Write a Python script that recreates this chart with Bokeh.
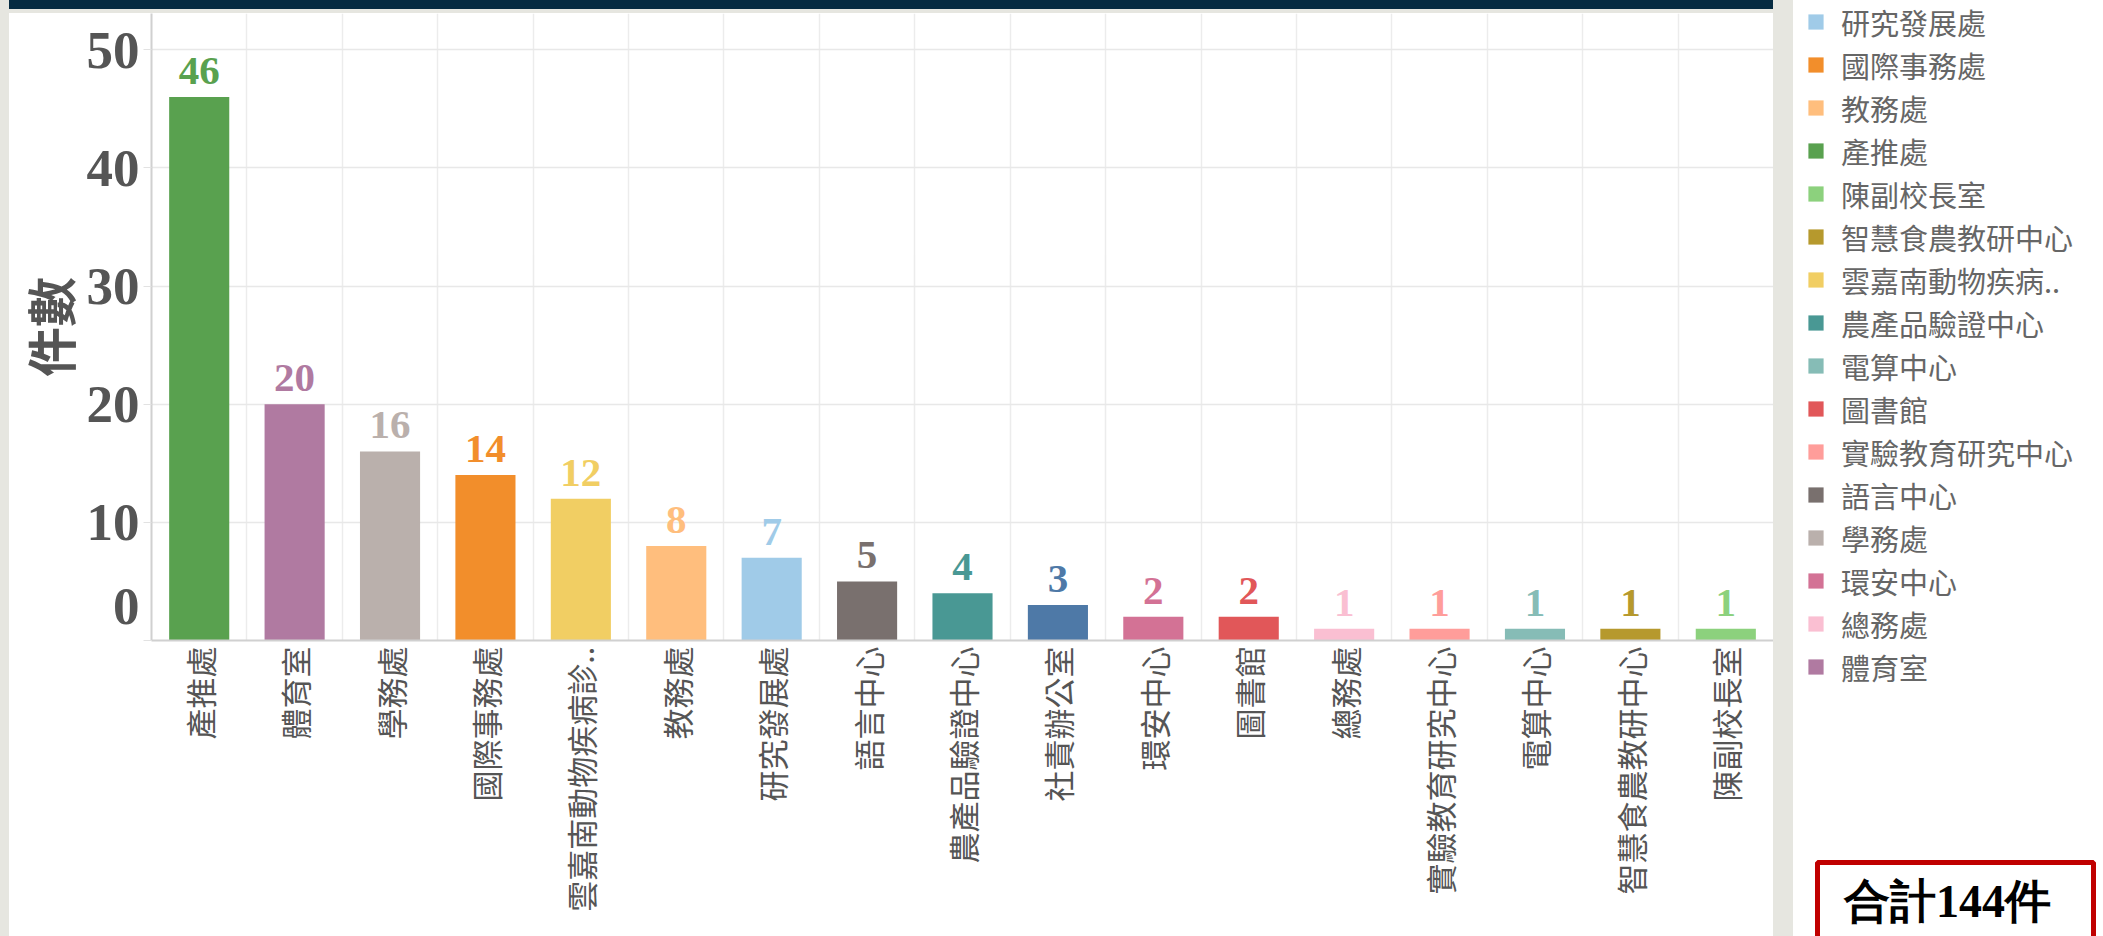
import math
from bokeh.plotting import figure
from bokeh.models import (ColumnDataSource, FactorRange, Range1d, FixedTicker, Label,
                          Legend, LegendItem, BoxAnnotation, Div)
from bokeh.layouts import row, column
from bokeh.core.properties import value, field
from bokeh.embed import file_html
from bokeh.resources import INLINE

# ---------------- data ----------------
categories = ["產推處", "體育室", "學務處", "國際事務處", "雲嘉南動物疾病診..", "教務處",
              "研究發展處", "語言中心", "農產品驗證中心", "社責辦公室", "環安中心", "圖書館",
              "總務處", "實驗教育研究中心", "電算中心", "智慧食農教研中心", "陳副校長室"]
counts = [46, 20, 16, 14, 12, 8, 7, 5, 4, 3, 2, 2, 1, 1, 1, 1, 1]
bar_colors = ["#59A14F", "#B07AA1", "#BAB0AC", "#F28E2B", "#F1CE63", "#FFBE7D",
              "#A0CBE8", "#79706E", "#499894", "#4E79A7", "#D37295", "#E15759",
              "#FABFD2", "#FF9D9A", "#86BCB6", "#B6992D", "#8CD17D"]

legend_names = ["研究發展處", "國際事務處", "教務處", "產推處", "陳副校長室", "智慧食農教研中心",
                "雲嘉南動物疾病..", "農產品驗證中心", "電算中心", "圖書館", "實驗教育研究中心",
                "語言中心", "學務處", "環安中心", "總務處", "體育室"]
legend_colors = ["#A0CBE8", "#F28E2B", "#FFBE7D", "#59A14F", "#8CD17D", "#B6992D",
                 "#F1CE63", "#499894", "#86BCB6", "#E15759", "#FF9D9A",
                 "#79706E", "#BAB0AC", "#D37295", "#FABFD2", "#B07AA1"]

y_ticks = [0, 10, 20, 30, 40, 50]
y_title = "件數"
total_text = "合計144件"

NAVY = "#062b41"
PANEL = "#e6e6e0"
TXT = "#555555"


def strip(w, h, color):
    return Div(text="", width=w, height=h, margin=0, styles={"background-color": color})


# ---------------- frame pieces ----------------
left_band = strip(9, 936, PANEL)
navy = strip(1764, 9, NAVY)
thin = strip(1764, 4, PANEL)
band = strip(20, 936, PANEL)

# ---------------- main bar chart ----------------
main = figure(x_range=FactorRange(factors=categories, range_padding=0),
              y_range=Range1d(0, 53.07),
              width=1764, height=923, output_backend="svg", toolbar_location=None,
              min_border_left=142, min_border_right=0, min_border_top=0, min_border_bottom=296)
main.outline_line_color = None
main.background_fill_color = "white"
main.border_fill_color = "white"

src = ColumnDataSource(dict(cat=categories, n=counts, color=bar_colors,
                            label=[str(c) for c in counts]))
main.vbar(x="cat", top="n", bottom=0, width=0.63, fill_color="color", line_color=None, source=src)
main.text(x="cat", y="n", text=field("label"), text_color=field("color"), source=src,
          text_font=value("Liberation Serif"), text_font_style="bold", text_font_size="41px",
          text_align="center", text_baseline="alphabetic", y_offset=-26)

yax = main.yaxis[0]
yax.ticker = FixedTicker(ticks=y_ticks)
yax.major_label_text_font = "Liberation Serif"
yax.major_label_text_font_style = "bold"
yax.major_label_text_font_size = "53px"
yax.major_label_text_color = TXT
yax.axis_line_color = "#d0d0d0"
yax.axis_line_width = 2
yax.major_tick_out = 8
yax.major_tick_in = 0
yax.major_tick_line_color = "#e2e2e2"
yax.minor_tick_line_color = None
yax.major_label_standoff = 4
yax.axis_label = y_title
yax.axis_label_text_font = "Noto Sans CJK TC"
yax.axis_label_text_font_style = "bold"
yax.axis_label_text_font_size = "50px"
yax.axis_label_text_color = TXT
yax.axis_label_standoff = -1
# the zero label sits a little above the baseline in the original
yax.major_label_overrides = {0: "0\n\u00a0"}

xax = main.xaxis[0]
xax.major_label_orientation = math.pi / 2
xax.major_label_text_font = "Noto Sans CJK TC"
xax.major_label_text_font_size = "31px"
xax.major_label_text_color = TXT
xax.major_label_standoff = 0
xax.major_tick_line_color = None
xax.minor_tick_line_color = None
xax.axis_line_color = "#d0d0d0"
xax.axis_line_width = 2

main.ygrid.ticker = FixedTicker(ticks=y_ticks)
main.ygrid.grid_line_color = "#e8e8e8"
main.ygrid.grid_line_width = 1.5
main.xgrid.ticker = FixedTicker(ticks=list(range(1, len(categories))))
main.xgrid.grid_line_color = "#ececec"
main.xgrid.grid_line_width = 1.5

# ---------------- legend panel ----------------
LW, LH = 310, 936
leg = figure(width=LW, height=LH, x_range=Range1d(0, LW), y_range=Range1d(0, LH),
             output_backend="svg", toolbar_location=None,
             x_axis_location=None, y_axis_location=None, min_border=0)
leg.outline_line_color = None
leg.grid.visible = False
nleg = len(legend_names)
lsrc = ColumnDataSource(dict(l=[-200] * nleg, r=[-150] * nleg, b=[-200] * nleg, t=[-150] * nleg,
                             color=legend_colors))
r = leg.quad(left="l", right="r", bottom="b", top="t", fill_color="color",
             line_color=None, source=lsrc)
items = [LegendItem(label=n, renderers=[r], index=i) for i, n in enumerate(legend_names)]
legend = Legend(items=items, location=(13, 248), glyph_width=19, glyph_height=19,
                label_text_font="Noto Sans CJK TC", label_text_font_size="29px",
                label_text_color="#666666", label_standoff=16, label_height=43,
                spacing=0, padding=0, margin=0, border_line_color=None,
                background_fill_alpha=0)
leg.add_layout(legend, "center")

leg.add_layout(BoxAnnotation(left=24, right=300, top=74, bottom=-20, fill_color=None,
                             fill_alpha=0, line_color="#c00000", line_alpha=1.0,
                             line_width=5))
leg.add_layout(Label(x=154, y=35, text=total_text, text_font="Liberation Serif",
                     text_font_style="bold", text_font_size="46px", text_color="black",
                     text_align="center", text_baseline="middle"))

layout = row(left_band, column(navy, thin, main), band, leg)

open("out.html", "w").write(file_html(layout, INLINE))
